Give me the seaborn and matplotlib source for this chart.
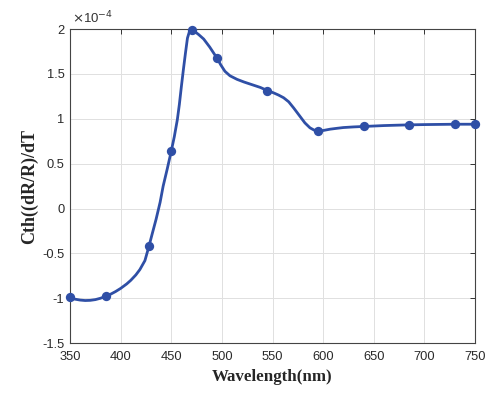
import numpy as np
import pandas as pd
import seaborn as sns
import matplotlib.pyplot as plt

# measured points (markers), values in units of 1e-4
wl_pts = [350, 386, 428, 450, 470, 495, 545, 595, 640, 685, 730, 750]
cth_pts = [-0.99, -0.97, -0.42, 0.64, 1.99, 1.68, 1.315, 0.865, 0.915, 0.933, 0.94, 0.94]

# smooth curve
wl_curve = [350, 355, 360, 365, 370, 375, 380, 386, 390, 395, 400, 406, 410, 415,
            419, 424, 428, 431, 435, 439, 442, 446, 450, 453, 456, 458, 460, 462,
            464, 466, 468, 470, 473, 477, 482, 488, 495, 499, 503, 508, 515, 522,
            530, 538, 545, 551, 556, 561, 566, 571, 577, 582, 587, 591, 595, 600,
            607, 614, 620, 630, 640, 650, 660, 672, 685, 700, 715, 730, 740, 750]
cth_curve = [-0.99, -1.01, -1.02, -1.025, -1.023, -1.015, -1.0, -0.975, -0.955, -0.925,
             -0.89, -0.84, -0.80, -0.74, -0.68, -0.58, -0.42, -0.29, -0.12, 0.07,
             0.25, 0.44, 0.64, 0.80, 0.99, 1.16, 1.36, 1.55, 1.73, 1.90, 1.975, 1.995,
             1.975, 1.94, 1.89, 1.80, 1.68, 1.60, 1.53, 1.48, 1.44, 1.41, 1.38, 1.35,
             1.315, 1.29, 1.265, 1.235, 1.19, 1.12, 1.03, 0.955, 0.90, 0.875, 0.865,
             0.87, 0.885, 0.895, 0.903, 0.91, 0.915, 0.92, 0.925, 0.929, 0.933, 0.936,
             0.938, 0.94, 0.94, 0.94]

x_ticks = [350, 400, 450, 500, 550, 600, 650, 700, 750]
y_ticks = [-1.5, -1, -0.5, 0, 0.5, 1, 1.5, 2]
y_tick_labels = ['-1.5', '-1', '-0.5', '0', '0.5', '1', '1.5', '2']

curve = pd.DataFrame({'wl': wl_curve, 'cth': cth_curve})
pts = pd.DataFrame({'wl': wl_pts, 'cth': cth_pts})

sns.set_style('whitegrid')
plt.rcParams['font.family'] = ['Liberation Sans', 'DejaVu Sans']

line_color = '#2F4FA6'

fig = plt.figure(figsize=(5.0, 3.99), dpi=100)
ax = fig.add_axes([0.14, 0.14, 0.81, 0.787])

sns.lineplot(data=curve, x='wl', y='cth', ax=ax, color=line_color, linewidth=2.0,
             sort=False)
sns.scatterplot(data=pts, x='wl', y='cth', ax=ax, color=line_color, s=45,
                edgecolor=line_color, linewidth=0, zorder=5, clip_on=False)

ax.set_xlim(350, 750)
ax.set_ylim(-1.5, 2)
ax.set_xticks(x_ticks)
ax.set_yticks(y_ticks)
ax.set_yticklabels(y_tick_labels)
ax.tick_params(axis='both', labelsize=9.3, colors='#333333', direction='in',
               length=3.5, width=0.7, top=True, right=True, pad=4,
               labelcolor='#2a2a2a')
ax.tick_params(axis='x', pad=6)
ax.grid(True, color='#e0e0e0', linewidth=0.7)
for s in ax.spines.values():
    s.set_color('#444444')
    s.set_linewidth(0.8)

ax.set_xlabel('Wavelength(nm)', fontfamily='Liberation Serif', fontweight='bold',
              fontsize=12.2, labelpad=4)
ax.set_ylabel('Cth((dR/R)/dT', fontfamily='Liberation Serif', fontweight='bold',
              fontsize=13, labelpad=3)

ax.text(0.005, 1.01, r'$\times$10$^{-4}$', transform=ax.transAxes, fontsize=9.5,
        color='#333333', ha='left', va='bottom')

fig.savefig('out.png', dpi=100)
